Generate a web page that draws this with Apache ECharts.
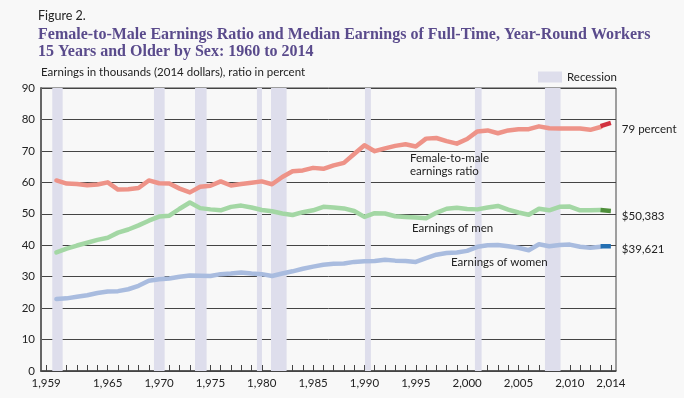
<!DOCTYPE html>
<html>
<head>
<meta charset="utf-8">
<script src="https://cdn.jsdelivr.net/npm/echarts@6/dist/echarts.min.js"></script>
<style>
  html, body { margin: 0; padding: 0; background: #f8f8f8; }
  #chart { width: 684px; height: 398px; }
</style>
</head>
<body>
<div id="chart"></div>
<script>
// years 1960..2014
const years = [];
for (let y = 1960; y <= 2014; y++) years.push(y);

// values, 1960..2013 (old series)
const ratio = [
  60.6, 59.6, 59.5, 59.1, 59.3, 60.0, 57.7, 57.8, 58.2, 60.6,
  59.7, 59.6, 58.0, 56.8, 58.6, 58.9, 60.3, 59.0, 59.5, 59.9,
  60.3, 59.4, 61.7, 63.5, 63.8, 64.6, 64.3, 65.4, 66.2, 69.0,
  71.8, 69.9, 70.8, 71.6, 72.1, 71.4, 73.9, 74.1, 73.1, 72.3,
  73.8, 76.2, 76.5, 75.6, 76.5, 76.9, 76.9, 77.8, 77.2, 77.1,
  77.1, 77.1, 76.7, 77.6
];
const menEarnings = [
  37.7, 38.9, 39.9, 40.8, 41.7, 42.4, 44.0, 45.0, 46.3, 47.8,
  49.1, 49.4, 51.6, 53.6, 51.8, 51.4, 51.1, 52.2, 52.6, 52.0,
  51.2, 50.8, 50.1, 49.6, 50.5, 51.1, 52.2, 52.0, 51.7, 50.9,
  49.0, 50.2, 50.1, 49.2, 49.0, 48.8, 48.6, 50.3, 51.6, 51.9,
  51.5, 51.4, 52.0, 52.5, 51.3, 50.4, 49.7, 51.6, 51.1, 52.2,
  52.3, 51.1, 51.1, 51.2
];
const womenEarnings = [
  22.9, 23.1, 23.6, 24.1, 24.8, 25.3, 25.4, 26.0, 27.1, 28.7,
  29.2, 29.4, 30.0, 30.4, 30.3, 30.2, 30.8, 31.0, 31.3, 31.0,
  30.8, 30.2, 31.0, 31.7, 32.5, 33.2, 33.8, 34.1, 34.2, 34.7,
  34.9, 35.0, 35.4, 35.1, 35.0, 34.7, 35.9, 37.0, 37.5, 37.7,
  38.2, 39.5, 40.0, 40.1, 39.7, 39.2, 38.4, 40.3, 39.7, 40.1,
  40.2, 39.5, 39.2, 39.5
];

// 2013..2014 (new series, darker)
const newYears = [2013, 2014];
const ratioNew = [77.9, 78.9];
const menNew = [51.2, 50.9];
const womenNew = [39.7, 39.7];

// recession shading, as placed on the figure
const recessionStart = [1959.6, 1969.5, 1973.5, 1979.53, 1980.9, 1990.05, 2000.76, 2007.58];
const recessionEnd   = [1960.61, 1970.54, 1974.63, 1980.02, 1982.42, 1990.63, 2001.41, 2009.1];

const xLabels = [1959, 1965, 1970, 1975, 1980, 1985, 1990, 1995, 2000, 2005, 2010, 2014];
const xTicks = [];
for (let y = 1959; y <= 2014; y++) xTicks.push(y);

const endLabels = ['79 percent', '$50,383', '$39,621'];

const pair = (xs, ys) => xs.map((x, i) => [x, ys[i]]);

const sans = 'Lato';
const textColor = '#222';
const bandColor = '#dedeec';

const chart = echarts.init(document.getElementById('chart'));

function lightLine(name, data, color) {
  return {
    name: name,
    type: 'line',
    data: pair(years, data),
    symbol: 'none',
    z: 3,
    lineStyle: { color: color, width: 4.5, cap: 'round', join: 'round' },
    itemStyle: { color: color }
  };
}

function darkLine(name, data, color, label, offsetY) {
  return {
    name: name,
    type: 'line',
    data: pair(newYears, data),
    symbol: 'none',
    z: 4,
    lineStyle: { color: color, width: 4.5, cap: 'butt' },
    itemStyle: { color: color },
    endLabel: {
      show: true,
      formatter: label,
      distance: 11,
      offset: [0, offsetY],
      color: textColor,
      fontFamily: sans,
      fontSize: 11.5
    }
  };
}

const option = {
  backgroundColor: '#f8f8f8',
  animation: false,
  title: [
    {
      text: 'Figure 2.',
      left: 38,
      top: 9,
      padding: 0,
      textStyle: { fontFamily: sans, fontSize: 12.5, fontWeight: 'normal', color: textColor }
    },
    {
      text: 'Female-to-Male Earnings Ratio and Median Earnings of Full-Time, Year-Round Workers\n15 Years and Older by Sex: 1960 to 2014',
      left: 38,
      top: 26,
      padding: 0,
      textStyle: { fontFamily: 'Liberation Serif', fontSize: 16, fontWeight: 'bold', lineHeight: 17, color: '#5a4b8c' }
    }
  ],
  legend: {
    data: ['Recession'],
    left: 538,
    top: 71,
    padding: 0,
    icon: 'rect',
    itemWidth: 24,
    itemHeight: 11,
    selectedMode: false,
    textStyle: { fontFamily: sans, fontSize: 11.5, color: textColor }
  },
  grid: {
    left: 41, right: 68, top: 88, bottom: 27,
    show: true,
    borderColor: '#444',
    borderWidth: 1
  },
  xAxis: {
    type: 'value',
    min: 1958.5,
    max: 2014.5,
    splitLine: { show: false },
    axisLine: { lineStyle: { color: '#444', width: 1.5 } },
    axisTick: {
      customValues: xTicks,
      inside: true,
      length: 6,
      lineStyle: { color: '#444' }
    },
    axisLabel: {
      customValues: xLabels,
      margin: 6,
      color: textColor,
      fontFamily: sans,
      fontSize: 11.5
    }
  },
  yAxis: {
    type: 'value',
    min: 0,
    max: 90,
    interval: 10,
    name: 'Earnings in thousands (2014 dollars), ratio in percent',
    nameLocation: 'end',
    nameGap: 10,
    nameTextStyle: { align: 'left', fontFamily: sans, fontSize: 11.5, color: textColor },
    axisLine: { show: true, lineStyle: { color: '#666', width: 2 } },
    axisTick: { show: false },
    splitLine: { lineStyle: { color: '#444', width: 1 } },
    axisLabel: { margin: 6, color: textColor, fontFamily: sans, fontSize: 11.5 }
  },
  // in-plot annotations sit above the recession bands
  graphic: [
    { type: 'text', z: 100, left: 410, top: 152, style: { text: 'Female-to-male\nearnings ratio', lineHeight: 13, fill: textColor, font: '11.5px Lato' } },
    { type: 'text', z: 100, left: 412, top: 222, style: { text: 'Earnings of men', fill: textColor, font: '11.5px Lato' } },
    { type: 'text', z: 100, left: 451, top: 256, style: { text: 'Earnings of women', fill: textColor, font: '11.5px Lato' } }
  ],
  series: [
    {
      name: 'Recession',
      type: 'line',
      data: [],
      z: 1,
      itemStyle: { color: bandColor },
      lineStyle: { color: bandColor },
      markArea: {
        silent: true,
        itemStyle: { color: bandColor },
        data: recessionStart.map((s, i) => [{ xAxis: s }, { xAxis: recessionEnd[i] }])
      }
    },
    lightLine('Female-to-male earnings ratio', ratio, '#ee9388'),
    lightLine('Earnings of men', menEarnings, '#a3d7a4'),
    lightLine('Earnings of women', womenEarnings, '#a9bcdf'),
    darkLine('ratio new', ratioNew, '#d2323f', endLabels[0], 6),
    darkLine('men new', menNew, '#4f8f3b', endLabels[1], 5),
    darkLine('women new', womenNew, '#2470b3', endLabels[2], 3)
  ]
};

chart.setOption(option);
</script>
</body>
</html>
